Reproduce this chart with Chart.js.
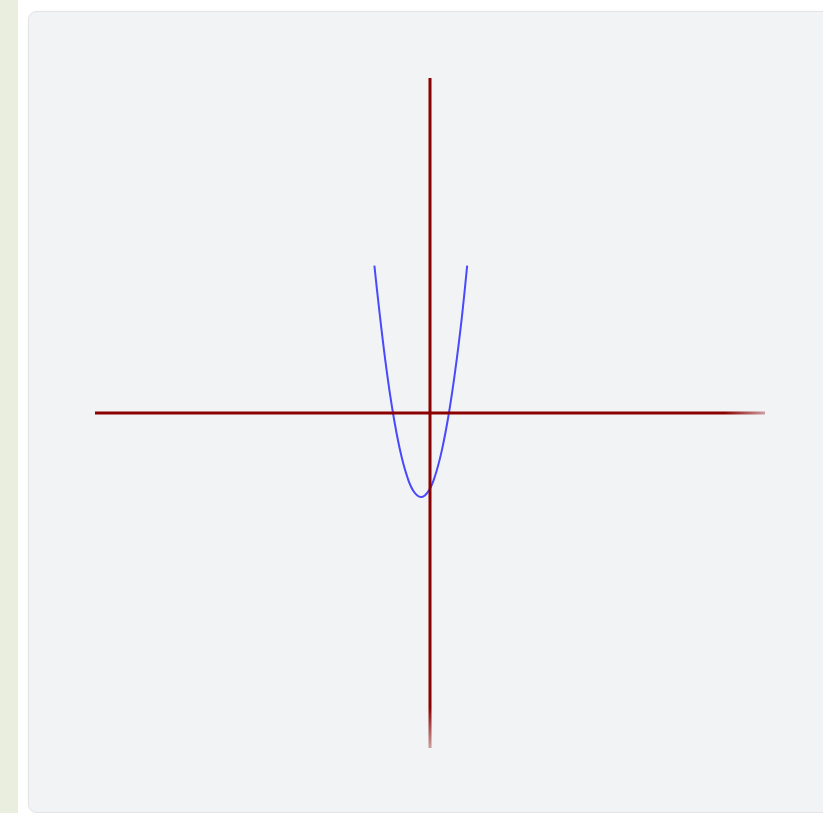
<!DOCTYPE html>
<html>
<head>
<meta charset="utf-8">
<script src="https://cdn.jsdelivr.net/npm/chart.js@4/dist/chart.umd.min.js"></script>
<style>
  html, body { margin: 0; padding: 0; background: #ffffff; width: 823px; height: 813px; overflow: hidden; font-family: "Noto Sans", sans-serif; }
  #strip { position: absolute; left: 0; top: 0; width: 18px; height: 813px; background: #eaeedf; }
  #panel { position: absolute; left: 28px; top: 11px; width: 820px; height: 800px; background: #f2f3f5; border: 1px solid #e3e4e7; border-radius: 9px; box-shadow: 0 0 2px rgba(0,0,0,0.06); }
  #wrap { position: absolute; left: 85px; top: 68px; width: 690px; height: 690px; }
</style>
</head>
<body>
<div id="strip"></div>
<div id="panel"></div>
<div id="wrap"><canvas id="c" width="690" height="690"></canvas></div>
<script>
// Curve points (x, y in axis units, axes span -10..10)
const curveX = [-1.66, -1.50, -1.30, -1.10, -0.90, -0.70, -0.50, -0.27, -0.05, 0.15, 0.35, 0.55, 0.75, 0.95, 1.11];
const curveY = [4.40, 2.94, 1.31, -0.03, -1.08, -1.84, -2.32, -2.51, -2.34, -1.88, -1.13, -0.09, 1.24, 2.85, 4.40];
// Axis lines
const xAxisX = [-10, 10];
const xAxisY = [0, 0];
const yAxisX = [0, 0];
const yAxisY = [10, -10];
const axisMin = -10;
const axisMax = 10;

const pts = (xs, ys) => xs.map((x, i) => ({ x: x, y: ys[i] }));

function fadeGradient(ctx, horizontal) {
  const chart = ctx.chart;
  const a = chart.chartArea;
  if (!a) return '#8b0000';
  let g;
  if (horizontal) {
    g = chart.ctx.createLinearGradient(a.left, 0, a.right, 0);
  } else {
    g = chart.ctx.createLinearGradient(0, a.top, 0, a.bottom);
  }
  g.addColorStop(0, '#8b0000');
  g.addColorStop(0.94, '#8b0000');
  g.addColorStop(1, 'rgba(139,0,0,0.35)');
  return g;
}

new Chart(document.getElementById('c'), {
  type: 'scatter',
  data: {
    datasets: [
      {
        data: pts(xAxisX, xAxisY),
        showLine: true,
        borderColor: (ctx) => fadeGradient(ctx, true),
        borderWidth: 3,
        pointRadius: 0,
        clip: false
      },
      {
        data: pts(yAxisX, yAxisY),
        showLine: true,
        borderColor: (ctx) => fadeGradient(ctx, false),
        borderWidth: 3,
        pointRadius: 0,
        clip: false
      },
      {
        data: pts(curveX, curveY),
        showLine: true,
        borderColor: 'rgba(30,30,255,0.8)',
        borderWidth: 2,
        pointRadius: 0,
        tension: 0.4,
        clip: false
      }
    ]
  },
  options: {
    responsive: false,
    devicePixelRatio: 1,
    animation: false,
    layout: { padding: 10 },
    plugins: { legend: { display: false }, tooltip: { enabled: false } },
    scales: {
      x: { type: 'linear', min: axisMin, max: axisMax, display: false },
      y: { type: 'linear', min: axisMin, max: axisMax, display: false }
    }
  }
});
</script>
</body>
</html>
